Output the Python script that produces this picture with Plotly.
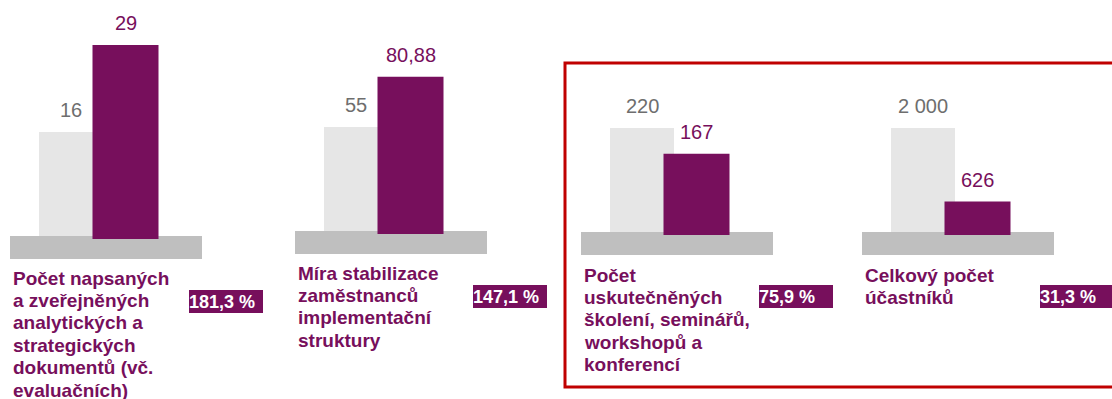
from decimal import Decimal, ROUND_HALF_UP

import plotly.graph_objects as go

# ---- data -------------------------------------------------------------
categories = [
    "Počet napsaných<br>a zveřejněných<br>analytických a<br>strategických<br>dokumentů (vč.<br>evaluačních)",
    "Míra stabilizace<br>zaměstnanců<br>implementační<br>struktury",
    "Počet<br>uskutečněných<br>školení, seminářů,<br>workshopů a<br>konferencí",
    "Celkový počet<br>účastníků",
]
target_values = [16, 55, 220, 2000]
actual_values = [29, 80.88, 167, 626]
series_names = ["Cílová hodnota", "Dosažená hodnota"]

# ---- styling / layout -------------------------------------------------
W, H = 1112, 399
LIGHT = "#E6E6E6"
PLATFORM = "#BFBFBF"
PURPLE = "#770F5C"
GREY_TEXT = "#6E6E6E"
FRAME = "#C00000"
FONT = "Liberation Sans, Arial, sans-serif"

panel_left = [10, 295, 581, 862]      # left edge of each panel (px)
panel_width = 192                     # width of the grey platform (px)
baseline_px = [239, 234, 235, 235]    # zero line of each panel (px from top)
target_px = 107                       # drawn height of the target bar
unit_px = 54.5                        # px between the two bar centres
light_center_px = 61                  # target bar centre from panel left
light_w_px, purple_w_px = 64, 66
plat_above_px, plat_below_px = 3, 20

text_top_px = [278, 273, 275, 275]
line_step_px = 22.4
pct_left_px = [189, 473, 759, 1040]
pct_top_px = [290, 285, 285, 285]


def fmt_cz(v):
    if float(v).is_integer():
        return f"{int(v):,}".replace(",", "\u00a0")
    return f"{v:.2f}".replace(".", ",")


def fmt_pct(a, t):
    p = (Decimal(str(a)) / Decimal(str(t)) * 100).quantize(Decimal("0.1"), rounding=ROUND_HALF_UP)
    return str(p).replace(".", ",") + " %"


fig = go.Figure()
layout = dict(
    width=W, height=H, autosize=False,
    margin=dict(l=0, r=0, t=0, b=0),
    paper_bgcolor="white", plot_bgcolor="rgba(0,0,0,0)",
    barmode="overlay", showlegend=False,
    font=dict(family=FONT),
)
annotations = []

x_lo = -light_center_px / unit_px
x_hi = (panel_width - light_center_px) / unit_px

for i, (cat, t, a) in enumerate(zip(categories, target_values, actual_values)):
    xa = "x" if i == 0 else f"x{i + 1}"
    ya = "y" if i == 0 else f"y{i + 1}"
    s = t / target_px   # data units per pixel in this panel
    b = baseline_px[i]

    fig.add_trace(go.Bar(
        x=[series_names[0]], y=[t], xaxis=xa, yaxis=ya,
        width=light_w_px / unit_px, marker=dict(color=LIGHT, line=dict(width=0)),
        hoverinfo="skip",
    ))
    fig.add_trace(go.Bar(
        x=[series_names[0]], y=[(plat_above_px + plat_below_px) * s],
        base=[-plat_below_px * s], offset=x_lo, width=x_hi - x_lo,
        xaxis=xa, yaxis=ya, marker=dict(color=PLATFORM, line=dict(width=0)),
        hoverinfo="skip",
    ))
    fig.add_trace(go.Bar(
        x=[series_names[1]], y=[a], xaxis=xa, yaxis=ya,
        width=purple_w_px / unit_px, marker=dict(color=PURPLE, line=dict(width=0)),
        hoverinfo="skip",
    ))

    sfx = "" if i == 0 else str(i + 1)
    layout[f"xaxis{sfx}"] = dict(
        domain=[panel_left[i] / W, (panel_left[i] + panel_width) / W],
        type="category", categoryorder="array", categoryarray=series_names,
        range=[x_lo, x_hi], visible=False, fixedrange=True, anchor=ya,
    )
    layout[f"yaxis{sfx}"] = dict(
        domain=[0, 1], range=[-(H - b) * s, b * s],
        visible=False, fixedrange=True, anchor=xa,
    )

    # value labels
    annotations.append(dict(
        x=series_names[0], y=t, xref=xa, yref=ya, text=fmt_cz(t),
        showarrow=False, yanchor="bottom", yshift=9,
        font=dict(size=20, color=GREY_TEXT, family=FONT),
    ))
    annotations.append(dict(
        x=series_names[1], y=a, xref=xa, yref=ya, text=fmt_cz(a),
        showarrow=False, yanchor="bottom", yshift=9,
        font=dict(size=20, color=PURPLE, family=FONT),
    ))

    # category name, one line at a time
    for k, line in enumerate(cat.split("<br>")):
        annotations.append(dict(
            x=(panel_left[i] + 1) / W, y=1 - (text_top_px[i] + k * line_step_px) / H,
            xref="paper", yref="paper", xanchor="left", yanchor="middle",
            text=f"<b>{line}</b>", showarrow=False,
            font=dict(size=19, color=PURPLE, family=FONT),
        ))

    # fulfilment percentage
    annotations.append(dict(
        x=pct_left_px[i] / W, y=1 - pct_top_px[i] / H,
        xref="paper", yref="paper", xanchor="left", yanchor="top",
        text=f"<b>{fmt_pct(a, t)}</b>", showarrow=False,
        width=74, height=23, align="left", valign="middle",
        bgcolor=PURPLE, borderpad=0, borderwidth=0,
        font=dict(size=18, color="white", family=FONT),
    ))

layout["annotations"] = annotations
layout["shapes"] = [dict(
    type="rect", xref="paper", yref="paper",
    x0=565 / W, x1=1125 / W, y0=1 - 387 / H, y1=1 - 63 / H,
    line=dict(color=FRAME, width=3), fillcolor="rgba(0,0,0,0)", layer="above",
)]
fig.update_layout(**layout)

fig.write_html("out.html")
